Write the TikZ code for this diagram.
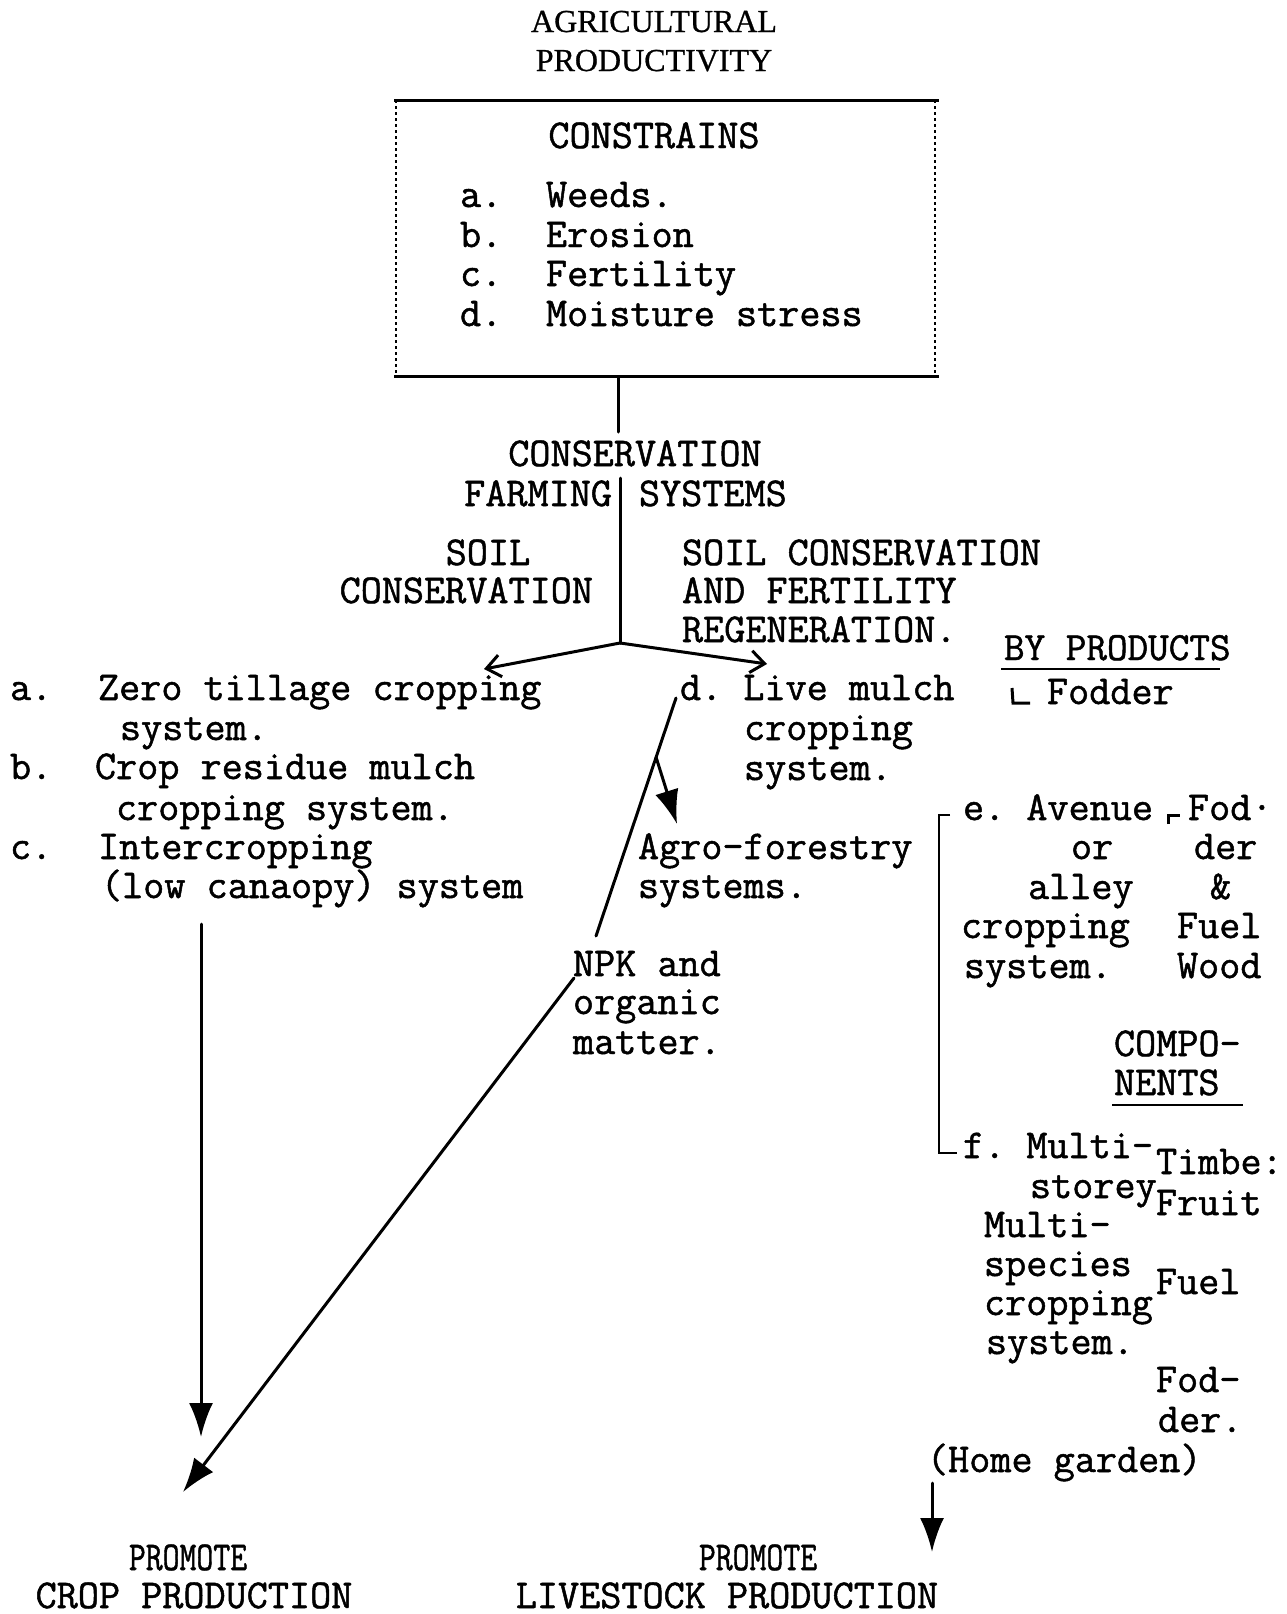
\documentclass[tikz,border=0pt]{standalone}
\usepackage{fontspec}
\usepackage{graphicx}
\setmainfont{Liberation Serif}
\newfontfamily\hd{Liberation Serif}[FakeBold=0.8]
\newfontfamily\tw{Latin Modern Mono}[FakeBold=1.2]
\usetikzlibrary{arrows.meta}
\begin{document}
\begin{tikzpicture}[x=1pt,y=-1pt,
  every node/.style={inner sep=0pt,outer sep=0pt},
  twf/.style={font=\tw\fontsize{41}{44}\selectfont\frenchspacing},
  tl/.style={twf,anchor=base west},
  tr/.style={twf,anchor=base east},
  tc/.style={twf,anchor=base},
  conn/.style={line width=3pt,line cap=round},
  barb/.style={conn,-{Straight Barb[length=14pt,width=22pt,line width=3pt]}},
  filled/.style={conn,-{Latex[length=34pt,width=24pt]}},
  uline/.style={line width=2.4pt},
]
\useasboundingbox (0,0) rectangle (1286,1614);
\fill[white] (0,0) rectangle (1286,1614);

% title
\node[font=\hd\fontsize{32}{36}\selectfont,anchor=base] (t1) at (654,32) {AGRICULTURAL};
\node[font=\hd\fontsize{32}{36}\selectfont,anchor=base] (t2) at (654,71) {PRODUCTIVITY};

% constraints box
\node[minimum width=545pt,minimum height=276pt] (box) at (666.5,238) {};
\draw[line width=3pt] (box.north west) -- (box.north east);
\draw[line width=3pt] (box.south west) -- (box.south east);
\draw[line width=1.4pt,dash pattern=on 3pt off 3pt] ([xshift=2pt]box.north west) -- ([xshift=2pt]box.south west);
\draw[line width=1.4pt,dash pattern=on 3pt off 3pt] ([xshift=-4pt]box.north east) -- ([xshift=-4pt]box.south east);
\node[tc] (cons) at (654,148) {CONSTRAINS};
\node[tl] (ca) at (460,207) {a.};
\node[tl] (cat) at (546,207) {Weeds.};
\node[tl] (cb) at (460,247) {b.};
\node[tl] (cbt) at (546,247) {Erosion};
\node[tl] (cc) at (460,286) {c.};
\node[tl] (cct) at (546,286) {Fertility};
\node[tl] (cd) at (460,326) {d.};
\node[tl] (cdt) at (546,326) {Moisture stress};

% conservation farming systems
\coordinate (b1) at (618,378);
\coordinate (b2) at (618,432);
\draw[conn] (b1) -- (b2);
\node[tc] (cfs1) at (635,466) {CONSERVATION};
\node[tr] (cfs2) at (612,506) {FARMING};
\node[tl] (cfs3) at (639,506) {SYSTEMS};
\coordinate (v1) at (620,478);
\coordinate (fork) at (620,643);
\draw[conn] (v1) -- (fork);

\node[tc] (sc1) at (488,565) {SOIL};
\node[tr] (sc2) at (593,603) {CONSERVATION};
\node[tl] (sf1) at (682,565) {SOIL CONSERVATION};
\node[tl] (sf2) at (682,603) {AND FERTILITY};
\node[tl] (sf3) at (682,642) {REGENERATION.};

\coordinate (la) at (484,669);
\coordinate (ra) at (767,664);
\draw[barb] (fork) -- (la);
\draw[barb] (fork) -- (ra);

% left list
\node[tl] (la1) at (10,700) {a.};
\node[tl] (la2) at (98,700) {Zero tillage cropping};
\node[tl] (la3) at (120,740) {system.};
\node[tl] (lb1) at (10,779) {b.};
\node[tl] (lb2) at (95,779) {Crop residue mulch};
\node[tl] (lb3) at (116,820) {cropping system.};
\node[tl] (lc1) at (10,859) {c.};
\node[tl] (lc2) at (98,859) {Intercropping};
\node[tl] (lc3) at (101,898) {(low canaopy) system};

% d. live mulch
\node[tl] (ld1) at (680,700) {d. Live mulch};
\node[tl] (ld2) at (744,740) {cropping};
\node[tl] (ld3) at (744,780) {system.};

% by products
\node[tl,font=\tw\fontsize{40}{44}\selectfont] (bp) at (1004,660) {BY PRODUCTS};
\draw[uline] (1001,669) -- (1220,669);
\node[tl] (bpf) at (1047,704) {Fodder};
\draw[line width=3pt] (1012,688) -- (1013,703) -- (1030,703);

% agro-forestry
\node[tl] (af1) at (638,859) {Agro-forestry};
\node[tl] (af2) at (638,898) {systems.};

% d line and NPK
\coordinate (dl1) at (676,698);
\coordinate (dl2) at (596,936);
\draw[conn] (dl1) -- (dl2);
\coordinate (afs) at (656,757);
\coordinate (afe) at (677,824);
\draw[filled] (afs) -- (afe);

\node[tl] (npk1) at (573,976) {NPK and};
\node[tl] (npk2) at (573,1014) {organic};
\node[tl] (npk3) at (573,1054) {matter.};

% e. avenue
\node[tl] (e1) at (963,820) {e. Avenue};
\node[tl] (e1r) at (1188,820) {Fod·};
\draw[line width=3pt] (1168,824) -- (1168,815) -- (1180,815);
\node[tl] (e2) at (1071,859) {or};
\node[tl] (e2r) at (1194,859) {der};
\node[tl] (e3) at (1028,899) {alley};
\node[tl] (e3r) at (1210,899) {\&};
\node[tl] (e4) at (961,938) {cropping};
\node[tl] (e4r) at (1177,938) {Fuel};
\node[tl] (e5) at (964,978) {system.};
\node[tl] (e5r) at (1177,978) {Wood};

% bracket
\coordinate (bt) at (939,815);
\coordinate (bb) at (939,1153);
\draw[line width=2.2pt] (950,815) -- (bt) -- (bb) -- (957,1153);

% components
\node[tl] (co1) at (1114,1056) {COMPO-};
\node[tl] (co2) at (1114,1095) {NENTS};
\draw[uline] (1112,1105) -- (1243,1105);

% f. multi-storey
\node[tl] (f1) at (963,1158) {f. Multi-};
\node[tl] (f2) at (1030,1198) {storey};
\node[tl] (f3) at (984,1237) {Multi-};
\node[tl] (f4) at (984,1276) {species};
\node[tl] (f5) at (984,1315) {cropping};
\node[tl] (f6) at (986,1354) {system.};
\node[tl] (g1) at (1156,1174) {Timbe:};
\node[tl] (g2) at (1156,1215) {Fruit};
\node[tl] (g3) at (1156,1294) {Fuel};
\node[tl] (g4) at (1156,1392) {Fod-};
\node[tl] (g5) at (1158,1432) {der.};
\node[tl] (hg) at (927,1472) {(Home garden)};

% bottom
\node[tc] (p1) at (188,1570) {\scalebox{0.8}[1]{PROMOTE}};
\node[tc] (p2) at (194,1608) {CROP PRODUCTION};
\node[tc] (q1) at (758,1570) {\scalebox{0.8}[1]{PROMOTE}};
\node[tc] (q2) at (727,1608) {LIVESTOCK PRODUCTION};

% arrows to bottom
\coordinate (lv1) at (201,924);
\coordinate (lv2) at (201,1437);
\draw[filled] (lv1) -- (lv2);
\coordinate (dg1) at (574,978);
\coordinate (dg2) at (183,1492);
\draw[filled] (dg1) -- (dg2);
\coordinate (hg1) at (932,1483);
\coordinate (hg2) at (932,1552);
\draw[filled] (hg1) -- (hg2);
\end{tikzpicture}
\end{document}
